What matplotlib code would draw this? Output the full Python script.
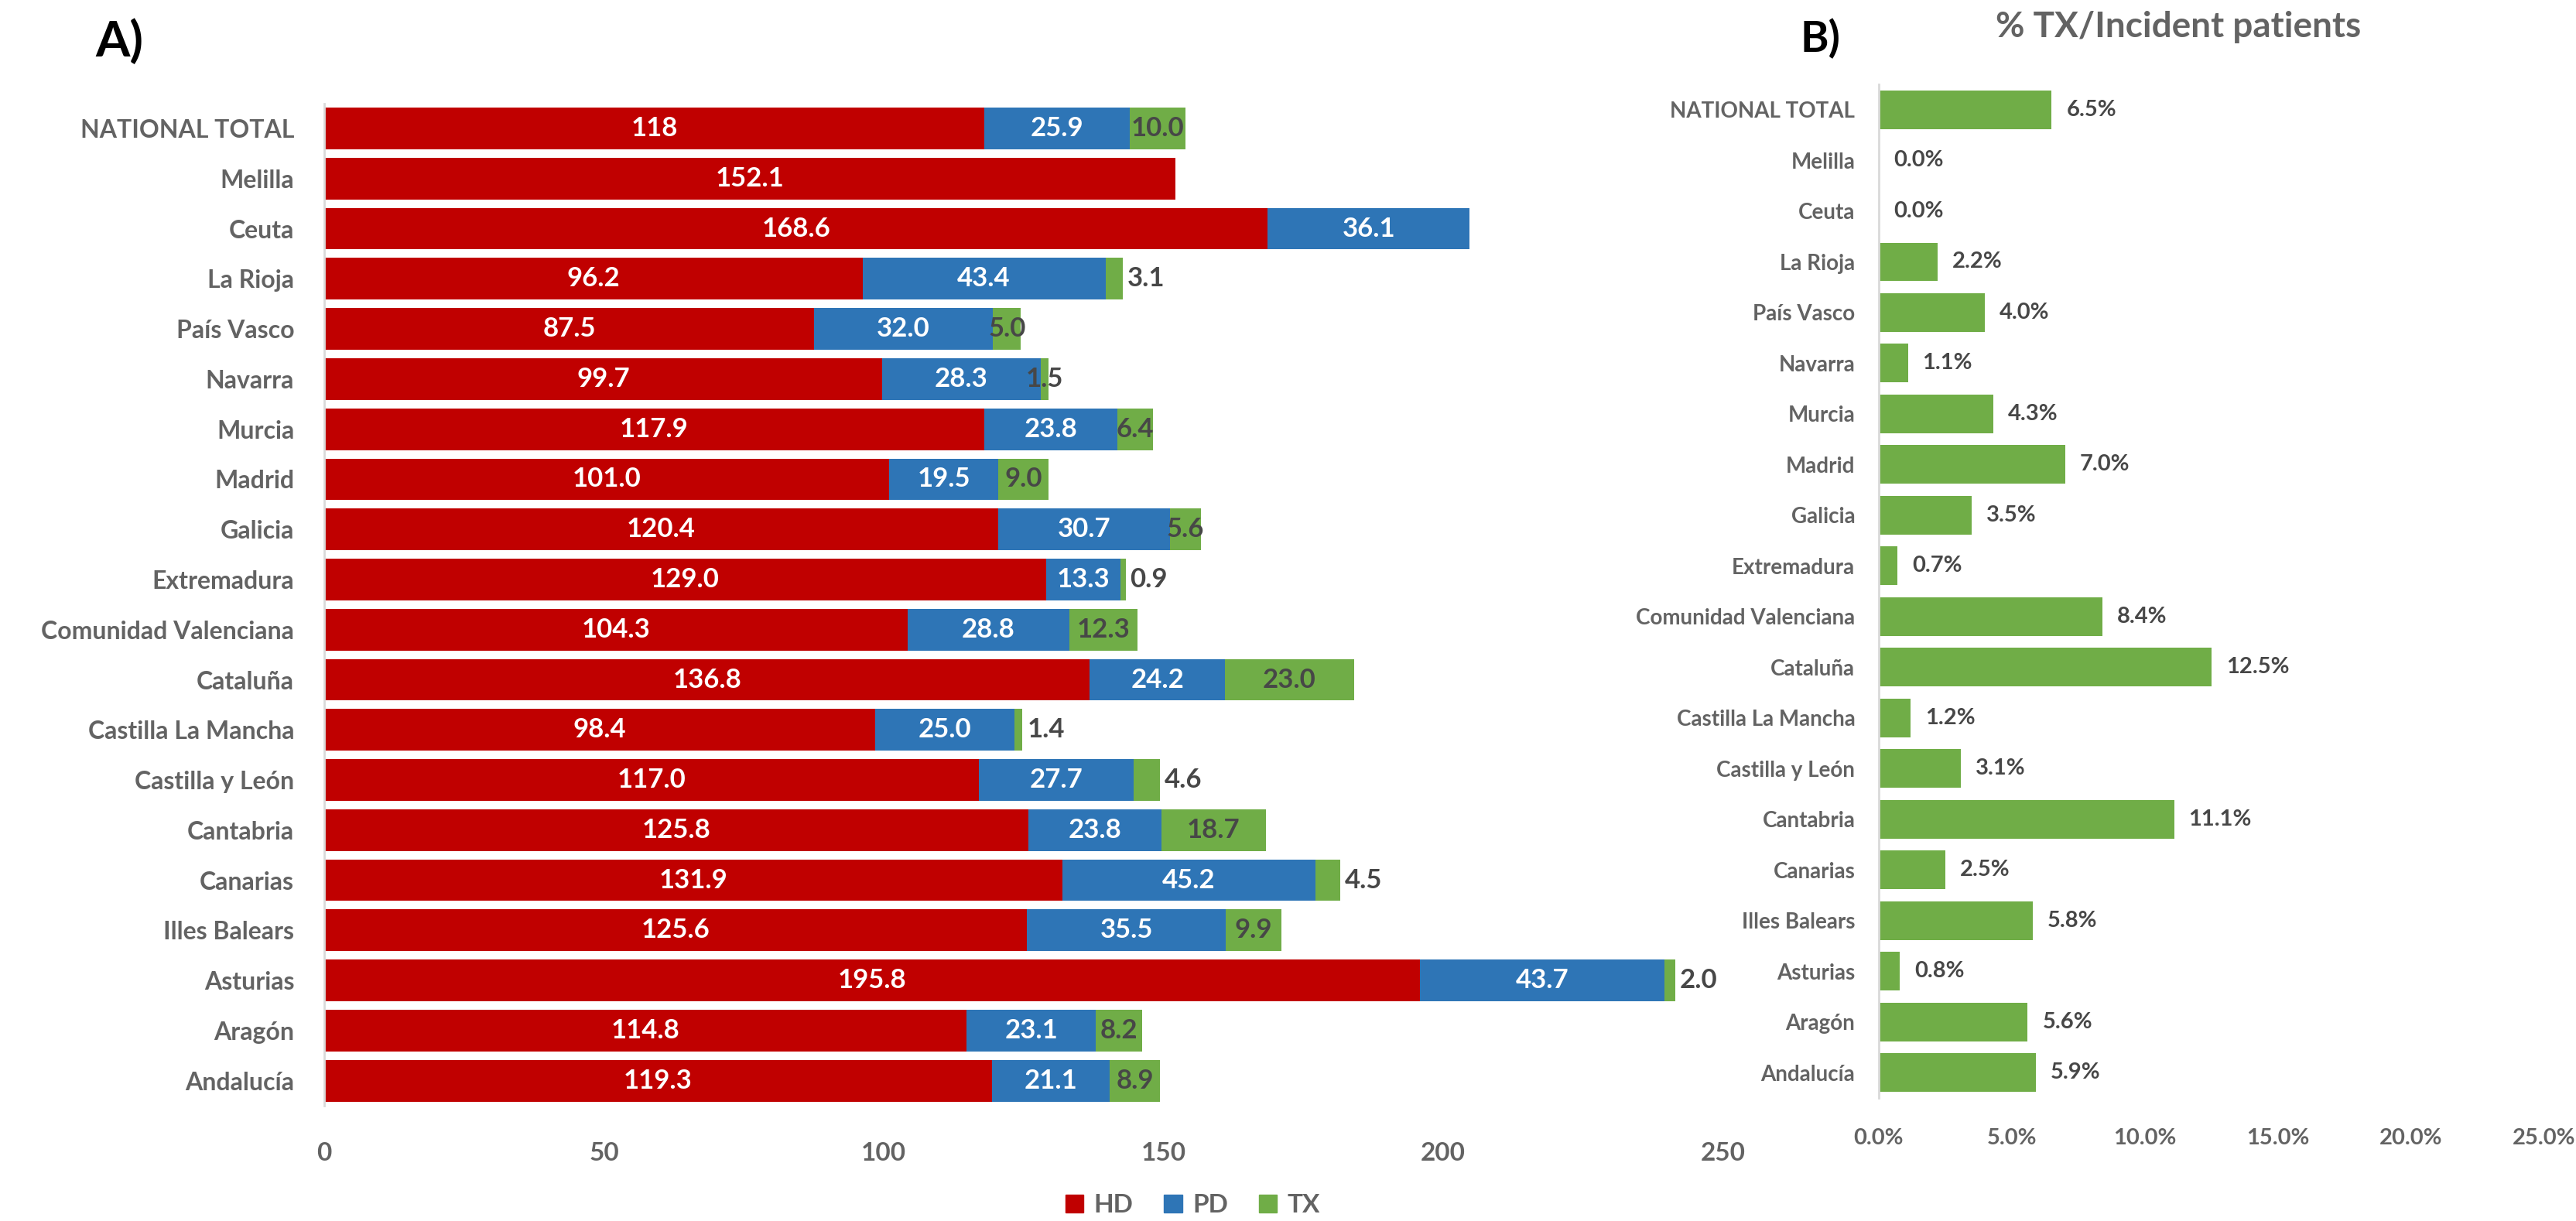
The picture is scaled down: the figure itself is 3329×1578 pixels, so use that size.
import numpy as np
import matplotlib
matplotlib.use('Agg')
import matplotlib.pyplot as plt
from matplotlib.patches import Patch

regions = ['NATIONAL TOTAL', 'Melilla', 'Ceuta', 'La Rioja', 'País Vasco', 'Navarra',
           'Murcia', 'Madrid', 'Galicia', 'Extremadura', 'Comunidad Valenciana',
           'Cataluña', 'Castilla La Mancha', 'Castilla y León', 'Cantabria', 'Canarias',
           'Illes Balears', 'Asturias', 'Aragón', 'Andalucía']

hd = [118, 152.1, 168.6, 96.2, 87.5, 99.7, 117.9, 101.0, 120.4, 129.0, 104.3,
      136.8, 98.4, 117.0, 125.8, 131.9, 125.6, 195.8, 114.8, 119.3]
pd_ = [25.9, 0, 36.1, 43.4, 32.0, 28.3, 23.8, 19.5, 30.7, 13.3, 28.8,
       24.2, 25.0, 27.7, 23.8, 45.2, 35.5, 43.7, 23.1, 21.1]
tx = [10.0, 0, 0, 3.1, 5.0, 1.5, 6.4, 9.0, 5.6, 0.9, 12.3,
      23.0, 1.4, 4.6, 18.7, 4.5, 9.9, 2.0, 8.2, 8.9]
tx_pct = [6.5, 0.0, 0.0, 2.2, 4.0, 1.1, 4.3, 7.0, 3.5, 0.7, 8.4,
          12.5, 1.2, 3.1, 11.1, 2.5, 5.8, 0.8, 5.6, 5.9]

# TX labels that Excel pushed outside the bar
tx_outside = ['La Rioja', 'Extremadura', 'Castilla La Mancha', 'Castilla y León',
              'Canarias', 'Asturias']

RED = '#C00000'
BLUE = '#2E75B6'
GREEN = '#70AD47'
GREY = '#636363'
DARK = '#474747'
AXCOL = '#D9D9D9'

plt.rcParams['font.family'] = ['Lato', 'DejaVu Sans']
plt.rcParams['font.weight'] = 'bold'

fig = plt.figure(figsize=(33.29, 15.78), dpi=100)

# ---------------- panel A ----------------
axA = fig.add_axes([0.1259, 0.0944, 0.543, 0.8209])
y = np.arange(len(regions))
hd = np.array(hd)
pd_ = np.array(pd_)
tx = np.array(tx)
h = 0.83
axA.barh(y, hd, height=h, color=RED)
axA.barh(y, pd_, left=hd, height=h, color=BLUE)
axA.barh(y, tx, left=hd + pd_, height=h, color=GREEN)

fs = 25
for i, name in enumerate(regions):
    lab = '118' if i == 0 else '%.1f' % hd[i]
    axA.text(hd[i] / 2, i, lab, ha='center', va='center', color='white',
             fontsize=fs, fontweight='bold')
    if pd_[i] > 0:
        axA.text(hd[i] + pd_[i] / 2, i, '%.1f' % pd_[i], ha='center', va='center',
                 color='white', fontsize=fs, fontweight='bold')
    if tx[i] > 0:
        end = hd[i] + pd_[i] + tx[i]
        if name in tx_outside:
            axA.text(end + 0.8, i, '%.1f' % tx[i], ha='left', va='center',
                     color=DARK, fontsize=fs, fontweight='bold')
        else:
            axA.text(end - tx[i] / 2, i, '%.1f' % tx[i], ha='center', va='center',
                     color=DARK, fontsize=fs, fontweight='bold')

axA.set_xlim(0, 250)
axA.set_ylim(len(regions) - 0.5, -0.5)
axA.set_yticks(y)
axA.set_yticklabels(regions, fontsize=23, color=GREY, fontweight='bold')
axA.set_xticks([0, 50, 100, 150, 200, 250])
axA.tick_params(axis='x', length=0, pad=34, labelsize=24, labelcolor=GREY)
axA.tick_params(axis='y', length=0, pad=28)
for s in ['top', 'right', 'bottom']:
    axA.spines[s].set_visible(False)
axA.spines['left'].set_color(AXCOL)
axA.spines['left'].set_linewidth(2)

fig.text(0.037, 0.985, 'A)', fontsize=46, fontweight='bold', color='black',
         ha='left', va='top')

handles = [Patch(color=RED, label='HD'), Patch(color=BLUE, label='PD'),
           Patch(color=GREEN, label='TX')]
leg = fig.legend(handles=handles, loc='center', bbox_to_anchor=(0.463, 0.013), ncol=3,
                 frameon=False, fontsize=24, handlelength=0.7, handleheight=0.7,
                 handletextpad=0.4, columnspacing=1.2)
for t in leg.get_texts():
    t.set_color(GREY)

# ---------------- panel B ----------------
axB = fig.add_axes([0.7293, 0.1008, 0.2583, 0.830])
axB.barh(y, tx_pct, height=0.76, color=GREEN)
for i, v in enumerate(tx_pct):
    axB.text(v + 0.55, i, '%.1f%%' % v, ha='left', va='center', color=DARK,
             fontsize=21, fontweight='bold')
axB.set_xlim(0, 25)
axB.set_ylim(len(regions) - 0.5, -0.5)
axB.set_yticks(y)
axB.set_yticklabels(regions, fontsize=20, color=GREY, fontweight='bold')
axB.set_xticks([0, 5, 10, 15, 20, 25])
axB.set_xticklabels(['%.1f%%' % v for v in [0, 5, 10, 15, 20, 25]])
axB.tick_params(axis='x', length=0, pad=28, labelsize=21, labelcolor=GREY)
axB.tick_params(axis='y', length=0, pad=22)
for s in ['top', 'right', 'bottom']:
    axB.spines[s].set_visible(False)
axB.spines['left'].set_color(AXCOL)
axB.spines['left'].set_linewidth(2)
axB.set_title('% TX/Incident patients', fontsize=33, fontweight='bold', color=GREY,
              pad=44, x=0.45)

fig.text(0.699, 0.985, 'B)', fontsize=40, fontweight='bold', color='black',
         ha='left', va='top')

fig.savefig('out.png', dpi=100)
